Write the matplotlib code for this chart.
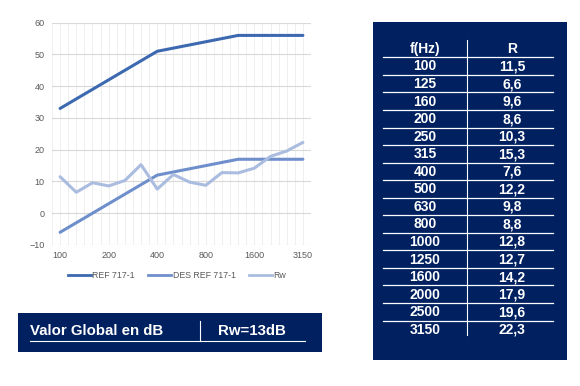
import matplotlib
matplotlib.use('Agg')
import matplotlib.pyplot as plt
from matplotlib.patches import Rectangle
from matplotlib.lines import Line2D
import numpy as np

freqs = ['100', '125', '160', '200', '250', '315', '400', '500', '630', '800',
         '1000', '1250', '1600', '2000', '2500', '3150']
ref_717 = [33, 36, 39, 42, 45, 48, 51, 52, 53, 54, 55, 56, 56, 56, 56, 56]
des_ref_717 = [-6, -3, 0, 3, 6, 9, 12, 13, 14, 15, 16, 17, 17, 17, 17, 17]
rw_vals = [11.5, 6.6, 9.6, 8.6, 10.3, 15.3, 7.6, 12.2, 9.8, 8.8, 12.8, 12.7,
           14.2, 17.9, 19.6, 22.3]
series_names = ['REF 717-1', 'DES REF 717-1', 'Rw']
global_label = 'Valor Global en dB'
global_value = 'Rw=13dB'
table_header = ['f(Hz)', 'R']

W, H = 580, 386
NAVY = '#002060'
C_REF = '#3C69B0'
C_DES = '#6E8FCB'
C_RW = '#AABCDF'

plt.rcParams['font.family'] = ['Liberation Sans', 'DejaVu Sans']

fig = plt.figure(figsize=(W / 100, H / 100), dpi=100)


def fx(x):
    return x / W


def fy(y):
    return 1 - y / H


ax = fig.add_axes([fx(52), fy(245), fx(311) - fx(52), fy(22.7) - fy(245)])
x = np.arange(len(freqs))
ax.plot(x, ref_717, color=C_REF, lw=2.2, solid_capstyle='round', zorder=3)
ax.plot(x, des_ref_717, color=C_DES, lw=2.2, solid_capstyle='round', zorder=3)
ax.plot(x, rw_vals, color=C_RW, lw=2.2, solid_capstyle='round', zorder=3)
ax.set_xlim(-0.5, len(freqs) - 0.5)
ax.set_ylim(-10, 60)
ax.set_yticks(range(-10, 61, 10))
ax.set_xticks(range(0, len(freqs), 3))
ax.set_xticklabels([freqs[i] for i in range(0, len(freqs), 3)])
for v in np.arange(-0.5, len(freqs), 0.5):
    ax.axvline(v, color='#EDEDED', lw=0.6, zorder=0)
ax.yaxis.grid(True, color='#D9D9D9', lw=0.8, zorder=1)
ax.set_axisbelow(True)
for s in ax.spines.values():
    s.set_visible(False)
ax.tick_params(length=0, labelsize=6.5, colors='#595959')
ax.tick_params(axis='y', pad=5.5)
ax.tick_params(axis='x', pad=4)

handles = [Line2D([], [], color=c, lw=2) for c in (C_REF, C_DES, C_RW)]
fig.legend(handles, series_names, loc='center', bbox_to_anchor=(fx(177), fy(276)),
           ncol=3, frameon=False, fontsize=6.3, handlelength=2.6, handletextpad=0.2,
           columnspacing=1.5, labelcolor='#595959')

# bottom box
fig.patches.append(Rectangle((fx(18), fy(352)), fx(322) - fx(18), fy(313) - fy(352),
                             transform=fig.transFigure, facecolor=NAVY, edgecolor='none'))
fig.text(fx(30), fy(331), global_label, color='white', fontsize=10.8, fontweight='bold',
         ha='left', va='center')
fig.text(fx(218), fy(331), global_value, color='white', fontsize=10.8, fontweight='bold',
         ha='left', va='center')
fig.add_artist(Line2D([fx(200), fx(200)], [fy(321), fy(341)], color='white', lw=0.8,
                      transform=fig.transFigure))
fig.add_artist(Line2D([fx(30), fx(305)], [fy(341), fy(341)], color='white', lw=0.8,
                      transform=fig.transFigure))

# table
fig.patches.append(Rectangle((fx(373), fy(360)), fx(567) - fx(373), fy(22) - fy(360),
                             transform=fig.transFigure, facecolor=NAVY, edgecolor='none'))
fig.text(fx(425), fy(49), table_header[0], color='white', fontsize=10, fontweight='bold',
         ha='center', va='center')
fig.text(fx(512), fy(49), table_header[1], color='white', fontsize=10, fontweight='bold',
         ha='center', va='center')
fig.add_artist(Line2D([fx(467), fx(467)], [fy(40), fy(335)], color='white', lw=0.8,
                      transform=fig.transFigure))
row_h = 17.55
for k in range(len(freqs)):
    yc = 66.5 + row_h * k
    fig.text(fx(425), fy(yc), freqs[k], color='white', fontsize=10, fontweight='bold',
             ha='center', va='center')
    fig.text(fx(512), fy(yc), f"{rw_vals[k]:.1f}".replace('.', ','), color='white',
             fontsize=10, fontweight='bold', ha='center', va='center')
    yl = 57.3 + row_h * k
    fig.add_artist(Line2D([fx(383), fx(553)], [fy(yl), fy(yl)], color='white', lw=0.9,
                          transform=fig.transFigure))

fig.savefig('out.png', dpi=100, facecolor='white')
